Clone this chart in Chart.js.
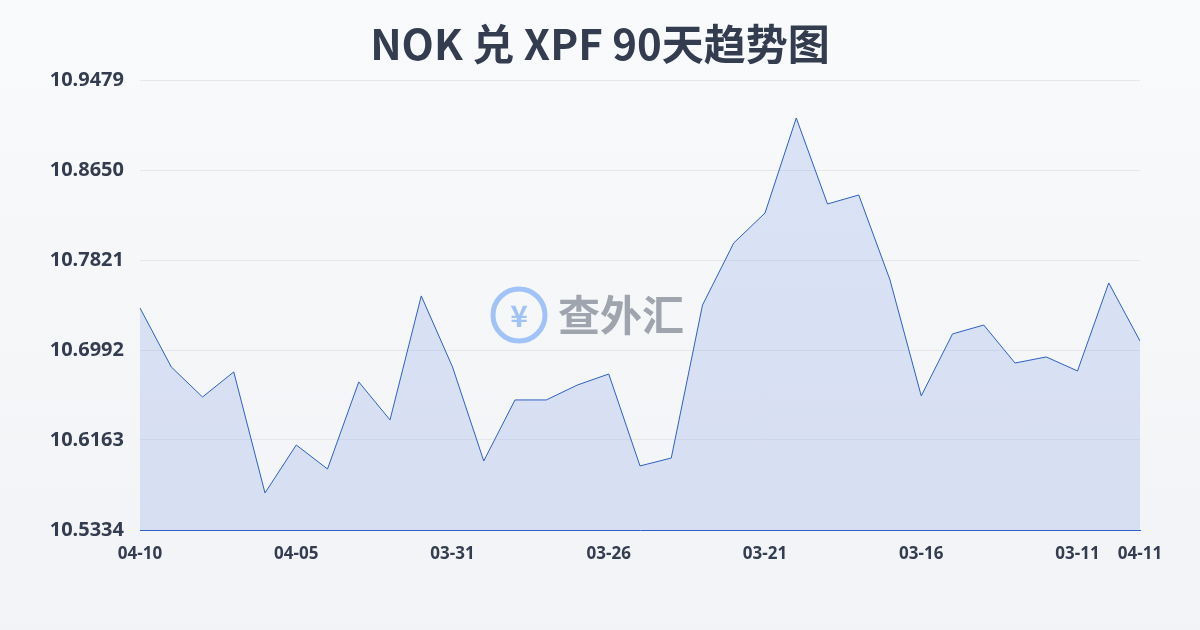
<!DOCTYPE html>
<html><head><meta charset="utf-8">
<script src="https://cdn.jsdelivr.net/npm/chart.js@4"></script>
<style>html,body{margin:0;padding:0;}body{width:1200px;height:630px;background:linear-gradient(#f9fafb,#f1f3f6);}</style>
</head><body><canvas id="c" width="1200" height="630"></canvas>
<script>
const labels=["04-10","04-09","04-08","04-07","04-06","04-05","04-04","04-03","04-02","04-01","03-31","03-30","03-29","03-28","03-27","03-26","03-25","03-24","03-23","03-22","03-21","03-20","03-19","03-18","03-17","03-16","03-15","03-14","03-13","03-12","03-11","03-10","04-11"];
const values=[10.7379,10.6836,10.6559,10.6790,10.5675,10.6117,10.5896,10.6698,10.6348,10.7490,10.6836,10.5970,10.6532,10.6532,10.6670,10.6771,10.5924,10.5997,10.7406,10.7978,10.8254,10.9129,10.8337,10.8420,10.7637,10.6569,10.7140,10.7222,10.6872,10.6928,10.6799,10.7610,10.7075];
const shownTicks=[0,5,10,15,20,25,30,32];
const yTicks=[10.5334,10.6163,10.6992,10.7821,10.8650,10.9479];
const deco={id:'deco',afterDraw(c){const x=c.ctx;x.save();
x.fillStyle='#333d4f';x.font='bold 42px "Noto Sans CJK SC"';x.textAlign='center';x.textBaseline='middle';x.fillText('NOK 兑 XPF 90天趋势图',600,44);
x.globalAlpha=0.45;x.strokeStyle='#3b82f6';x.lineWidth=5;x.beginPath();x.arc(519,315,26,0,Math.PI*2);x.stroke();
x.fillStyle='#3b82f6';x.font='bold 30px "Noto Sans CJK SC"';x.fillText('¥',519,316);
x.fillStyle='#374151';x.font='bold 42px "Noto Sans CJK SC"';x.textAlign='left';x.fillText('查外汇',558,315);x.restore();}};
new Chart(document.getElementById('c'),{type:'line',data:{labels,datasets:[{data:values,borderColor:'#2d5fc4',borderWidth:1,fill:true,backgroundColor:'rgba(90,130,220,0.18)',pointRadius:0,tension:0}]},
options:{responsive:false,animation:false,layout:{padding:{top:80,right:60,bottom:60,left:0}},plugins:{legend:{display:false},tooltip:{enabled:false}},
scales:{x:{afterFit(s){s.height=40;},grid:{display:false},border:{color:'#2d5fc4'},ticks:{autoSkip:false,maxRotation:0,padding:6,color:'#333d4f',font:{size:17,weight:'bold',family:'"Noto Sans"'},callback:(v,i)=>shownTicks.includes(i)?labels[i]:''}},
y:{min:10.5334,max:10.9479,afterFit(s){s.width=140;},afterBuildTicks(s){s.ticks=yTicks.map(v=>({value:v}));},grid:{color:'#e5e7eb',drawTicks:false},border:{display:false},ticks:{padding:16,color:'#333d4f',font:{size:20,weight:'bold',family:'"Noto Sans"'},callback:v=>v.toFixed(4)}}}},plugins:[deco]});
</script></body></html>
